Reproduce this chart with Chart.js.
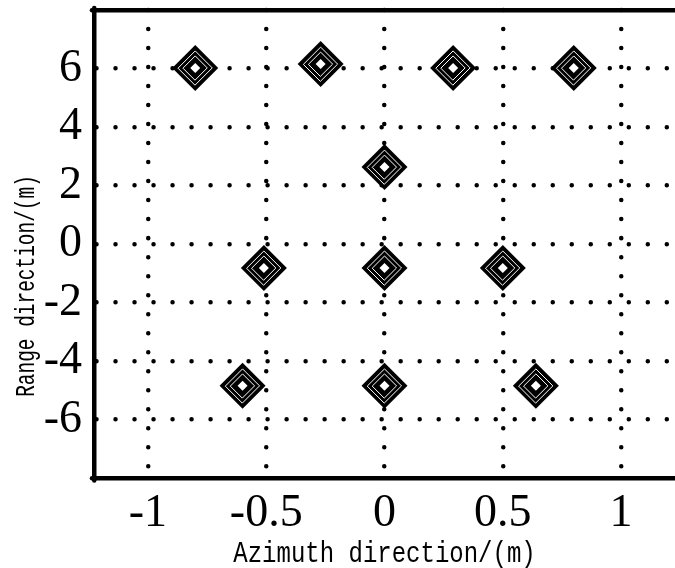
<!DOCTYPE html>
<html>
<head>
<meta charset="utf-8">
<script src="https://cdn.jsdelivr.net/npm/chart.js@4"></script>
<style>
  html, body { margin: 0; padding: 0; background: #fff; }
  canvas { display: block; }
</style>
</head>
<body>
<canvas id="contourChart" width="675" height="568"></canvas>
<script>
// target positions (azimuth m, range m)
const targetX = [-0.80, -0.27, 0.29, 0.80, 0.00, -0.51, 0.00, 0.50, -0.60, 0.00, 0.64];
const targetY = [6.02, 6.15, 6.02, 6.02, 2.63, -0.82, -0.82, -0.82, -4.85, -4.85, -4.85];

const xTicks = [-1, -0.5, 0, 0.5, 1];
const xTickLabels = ['-1', '-0.5', '0', '0.5', '1'];
const yTicks = [6, 4, 2, 0, -2, -4, -6];
const yTickLabels = ['6', '4', '2', '0', '-2', '-4', '-6'];

const xTitle = 'Azimuth direction/(m)';
const yTitle = 'Range direction/(m)';

const points = targetX.map((x, i) => ({ x: x, y: targetY[i] }));

// contour rings: outer filled diamond, white level lines, white centre
function ring(radius, fill, stroke, width, order) {
    return {
        data: points,
        pointStyle: 'rectRot',
        pointRadius: radius,
        pointHoverRadius: radius,
        backgroundColor: fill,
        borderColor: stroke,
        pointBorderWidth: width,
        showLine: false,
        order: order
    };
}

// round dots for the dotted grid + axis titles in the narrow mono look
const dotGrid = {
    id: 'dotGrid',
    beforeDraw(chart) {
        chart.ctx.lineCap = 'round';
    },
    afterDraw(chart) {
        const ctx = chart.ctx;
        const area = chart.chartArea;
        ctx.save();
        ctx.fillStyle = '#000';
        ctx.textAlign = 'center';
        ctx.textBaseline = 'alphabetic';
        ctx.font = '30px "Liberation Mono"';
        ctx.translate((area.left + area.right) / 2, 562);
        ctx.scale(0.8, 1);
        ctx.fillText(xTitle, 0, 0);
        ctx.restore();

        ctx.save();
        ctx.fillStyle = '#000';
        ctx.textAlign = 'center';
        ctx.textBaseline = 'alphabetic';
        ctx.font = '27px "Liberation Mono"';
        ctx.translate(34, 286);
        ctx.rotate(-Math.PI / 2);
        ctx.scale(0.72, 1);
        ctx.fillText(yTitle, 0, 0);
        ctx.restore();
    }
};

const tickFont = { family: '"Liberation Serif", serif', size: 46 };

new Chart(document.getElementById('contourChart'), {
    type: 'scatter',
    data: {
        datasets: [
            ring(5, '#fff', '#fff', 0, 0),
            ring(12, 'rgba(0,0,0,0)', '#fff', 1, 1),
            ring(17, 'rgba(0,0,0,0)', '#fff', 1, 2),
            ring(23, '#000', '#000', 0, 3)
        ]
    },
    options: {
        responsive: false,
        animation: false,
        devicePixelRatio: 1,
        layout: { autoPadding: false, padding: { top: 10, left: 0, right: 0, bottom: 0 } },
        plugins: {
            legend: { display: false },
            tooltip: { enabled: false }
        },
        scales: {
            x: {
                type: 'linear',
                position: 'bottom',
                min: -1.228,
                max: 1.228,
                afterBuildTicks: s => { s.ticks = xTicks.map(v => ({ value: v })); },
                afterFit: s => { s.height = 90; s.paddingLeft = 0; s.paddingRight = 0; },
                ticks: {
                    font: tickFont,
                    color: '#000',
                    padding: 8,
                    maxRotation: 0,
                    callback: (v) => xTickLabels[xTicks.indexOf(v)]
                },
                grid: { color: '#000', lineWidth: 4.5, drawTicks: false },
                border: { color: '#000', width: 4.5, dash: [0.01, 19] }
            },
            xTop: {
                type: 'linear',
                position: 'top',
                min: -1.228,
                max: 1.228,
                afterFit: s => { s.height = 0; s.paddingLeft = 0; s.paddingRight = 0; },
                ticks: { display: false },
                grid: { display: false, drawTicks: false },
                border: { color: '#000', width: 4.5 }
            },
            y: {
                type: 'linear',
                min: -8,
                max: 8,
                afterBuildTicks: s => { s.ticks = yTicks.map(v => ({ value: v })); },
                afterFit: s => { s.width = 94; s.paddingTop = 0; s.paddingBottom = 0; },
                ticks: {
                    font: tickFont,
                    color: '#000',
                    padding: 12,
                    callback: (v) => yTickLabels[yTicks.indexOf(v)]
                },
                grid: { color: '#000', lineWidth: 4.5, drawTicks: false },
                border: { color: '#000', width: 4.5, dash: [0.01, 19] }
            }
        }
    },
    plugins: [dotGrid]
});
</script>
</body>
</html>
